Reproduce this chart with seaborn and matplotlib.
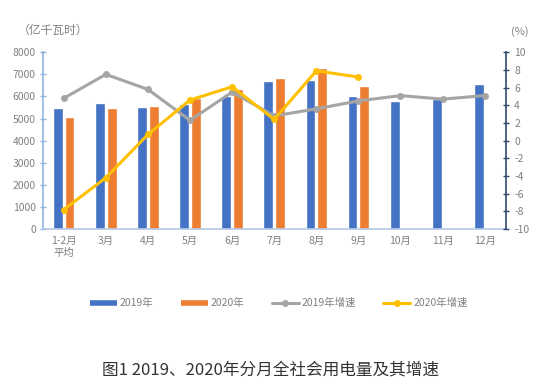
import numpy as np
import pandas as pd
import matplotlib
matplotlib.use('Agg')
import matplotlib.pyplot as plt
from matplotlib.lines import Line2D
import seaborn as sns

months = ['1-2月\n平均', '3月', '4月', '5月', '6月', '7月', '8月', '9月', '10月', '11月', '12月']
usage_2019 = [5500, 5727, 5530, 5650, 6015, 6680, 6760, 6015, 5790, 5865, 6575]
usage_2020 = [5090, 5485, 5560, 5940, 6350, 6815, 7270, 6455]
growth_2019 = [4.8, 7.5, 5.8, 2.3, 5.5, 2.8, 3.6, 4.5, 5.1, 4.7, 5.1]
growth_2020 = [-7.8, -4.2, 0.7, 4.6, 6.1, 2.4, 7.9, 7.2]
series = ['2019年', '2020年', '2019年增速', '2020年增速']

blue, orange, gray, yellow = '#4472C4', '#ED7D31', '#A5A5A5', '#FFC000'
label_color = '#808080'

bars = pd.DataFrame({
    'month': months * 2,
    'year': [series[0]] * len(months) + [series[1]] * len(months),
    'value': usage_2019 + usage_2020 + [np.nan] * (len(months) - len(usage_2020)),
})

sns.set_theme(style='white')
plt.rcParams['font.family'] = ['Noto Sans CJK SC', 'DejaVu Sans']
plt.rcParams['axes.unicode_minus'] = False

fig = plt.figure(figsize=(5.36, 3.84), dpi=100)
ax = fig.add_axes([0.0797, 0.4036, 0.8638, 0.4602])

sns.barplot(data=bars, x='month', y='value', hue='year', hue_order=series[:2],
            palette=[blue, orange], saturation=1, width=0.554, gap=0.16,
            ax=ax, legend=False)
ax.set_xlim(-0.5, len(months) - 0.5)
ax.set_ylim(0, 8000)
ax.set_yticks(range(0, 8001, 1000))
ax.set_xlabel('')
ax.set_ylabel('')

ax2 = ax.twinx()
sns.lineplot(x=np.arange(len(growth_2019)), y=growth_2019, ax=ax2, color=gray,
             lw=2.2, marker='o', markersize=5, markeredgewidth=0)
sns.lineplot(x=np.arange(len(growth_2020)), y=growth_2020, ax=ax2, color=yellow,
             lw=2.2, marker='o', markersize=5, markeredgewidth=0)
ax2.set_ylim(-10, 10)
ax2.set_yticks(range(-10, 11, 2))
ax2.set_xlim(-0.5, len(months) - 0.5)

for s in ['top', 'right']:
    ax.spines[s].set_visible(False)
for s in ['top', 'left', 'bottom']:
    ax2.spines[s].set_visible(False)
ax.spines['left'].set_color('#8EB4E3')
ax.spines['bottom'].set_color('#B4C7E7')
ax2.spines['right'].set_color('#2F4A70')
for sp in list(ax.spines.values()) + list(ax2.spines.values()):
    sp.set_linewidth(1.2)

ax.tick_params(axis='y', direction='inout', length=4, width=1, color='#8EB4E3',
               labelsize=7.5, labelcolor=label_color, pad=3, left=True)
ax.tick_params(axis='x', length=0, labelsize=7.5, labelcolor=label_color, pad=5)
ax2.tick_params(axis='y', direction='inout', length=4, width=1, color='#2F4A70',
                labelsize=7.5, labelcolor=label_color, pad=4, right=True)

fig.text(18 / 536, 1 - 30 / 384, '（亿千瓦时）', ha='left', va='center',
         fontsize=8.5, color=label_color)
fig.text(520 / 536, 1 - 32 / 384, '(%)', ha='center', va='center',
         fontsize=8, color=label_color)

handles = [
    Line2D([], [], color=blue, lw=4, solid_capstyle='butt'),
    Line2D([], [], color=orange, lw=4, solid_capstyle='butt'),
    Line2D([], [], color=gray, lw=2.2, marker='o', markersize=5, markeredgewidth=0),
    Line2D([], [], color=yellow, lw=2.2, marker='o', markersize=5, markeredgewidth=0),
]
fig.legend(handles, series, loc='center', bbox_to_anchor=(0.52, 1 - 303 / 384),
           ncol=4, frameon=False, fontsize=7.5, labelcolor=label_color,
           handlelength=2.6, handletextpad=0.3, columnspacing=2.6)

fig.text(0.504, 1 - 370 / 384, '图1 2019、2020年分月全社会用电量及其增速',
         ha='center', va='center', fontsize=12, color='#333333')

fig.savefig('out.png', dpi=100)
